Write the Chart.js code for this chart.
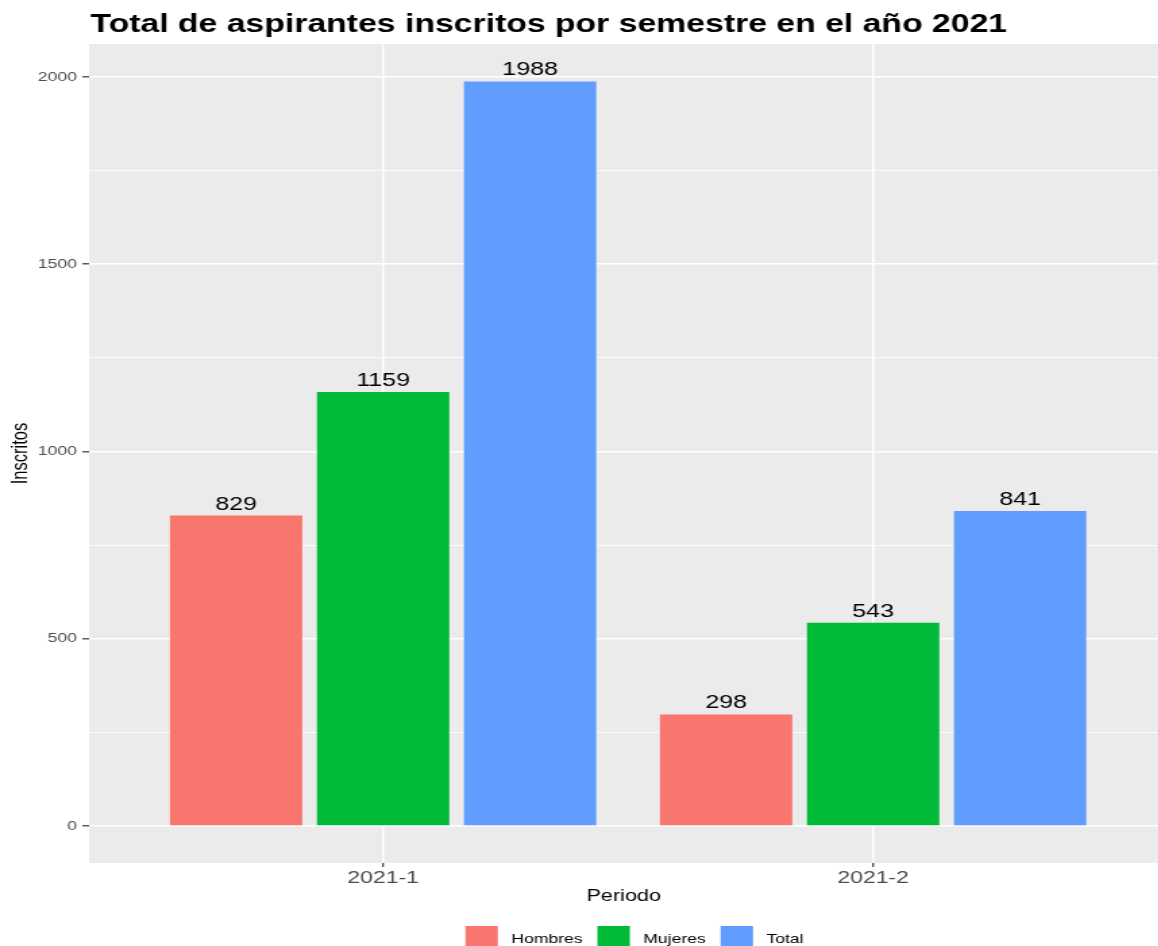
<!DOCTYPE html>
<html lang="es">
<head>
<meta charset="utf-8">
<title>Total de aspirantes inscritos por semestre en el año 2021</title>
<script src="https://cdn.jsdelivr.net/npm/chart.js@4.4.1/dist/chart.umd.min.js"></script>
<style>
  html, body { margin: 0; padding: 0; background: #fff; overflow: hidden; }
  /* el gráfico original viene estirado en horizontal */
  #lienzo { width: 858px; height: 946px; transform: scaleX(1.35); transform-origin: 0 0; }
</style>
</head>
<body>
<div id="lienzo"><canvas id="grafico" width="858" height="946"></canvas></div>
<script>
// Datos del gráfico
const periodos = ['2021-1', '2021-2'];
const hombres = [829, 298];
const mujeres = [1159, 543];
const total = [1988, 841];
const series = ['Hombres', 'Mujeres', 'Total'];
const colores = ['#F8766D', '#00BA38', '#619CFF'];
const etiquetasY = [0, 500, 1000, 1500, 2000];

const valores = [hombres, mujeres, total];
const fuente = "'Liberation Sans', Arial, sans-serif";
Chart.defaults.font.family = fuente;

// Fondo gris del panel, estilo ggplot
const fondoPanel = {
    id: 'fondoPanel',
    beforeDraw(chart) {
        const { ctx, chartArea: a } = chart;
        ctx.save();
        ctx.fillStyle = '#ffffff';
        ctx.fillRect(0, 0, chart.width, chart.height);
        ctx.fillStyle = '#EBEBEB';
        ctx.fillRect(a.left, a.top, a.right - a.left, a.bottom - a.top);
        ctx.restore();
    }
};

// Título, etiquetas de valor y leyenda
const textos = {
    id: 'textos',
    afterDatasetsDraw(chart) {
        const ctx = chart.ctx;
        ctx.save();
        ctx.fillStyle = '#000';
        ctx.font = `18.5px ${fuente}`;
        ctx.textAlign = 'center';
        ctx.textBaseline = 'alphabetic';
        chart.data.datasets.forEach((ds, i) => {
            chart.getDatasetMeta(i).data.forEach((barra, j) => {
                ctx.fillText(String(ds.data[j].y), barra.x, barra.y - 6);
            });
        });
        ctx.restore();
    },
    afterDraw(chart) {
        const ctx = chart.ctx;
        ctx.save();
        ctx.fillStyle = '#000';
        ctx.font = `bold 25px ${fuente}`;
        ctx.textAlign = 'left';
        ctx.textBaseline = 'alphabetic';
        ctx.fillText('Total de aspirantes inscritos por semestre en el año 2021', chart.chartArea.left + 1, 32);

        // leyenda abajo
        ctx.font = `13px ${fuente}`;
        ctx.textBaseline = 'middle';
        const caja = 24, sep = 10, entre = 11;
        const anchos = series.map(s => ctx.measureText(s).width);
        const ancho = anchos.reduce((s, w) => s + caja + sep + w, 0) + entre * (series.length - 1);
        let x = 470 - ancho / 2;
        series.forEach((s, i) => {
            ctx.fillStyle = colores[i];
            ctx.fillRect(x, 926, caja, caja);
            ctx.fillStyle = '#000';
            ctx.fillText(s, x + caja + sep, 939);
            x += caja + sep + anchos[i] + entre;
        });
        ctx.restore();
    }
};

const ctx = document.getElementById('grafico').getContext('2d');
const grafico = new Chart(ctx, {
    type: 'bar',
    data: {
        datasets: series.map((s, i) => ({
            label: s,
            data: valores[i].map((v, j) => ({ x: j + 1, y: v })),
            backgroundColor: colores[i],
            borderWidth: 0,
            categoryPercentage: 0.9,
            barPercentage: 0.9
        }))
    },
    options: {
        responsive: false,
        animation: false,
        devicePixelRatio: 1,
        layout: { padding: { top: 44, right: 0, bottom: 0, left: 0 } },
        plugins: {
            legend: { display: false },
            tooltip: { enabled: false }
        },
        scales: {
            x: {
                type: 'linear',
                offset: false,
                min: 0.4,
                max: 2.582,
                afterBuildTicks: scale => {
                    scale.ticks = periodos.map((p, i) => ({ value: i + 1 }));
                },
                afterFit: scale => { scale.height = 83; },
                ticks: {
                    callback: value => periodos[value - 1] || '',
                    font: { size: 17 },
                    color: '#4D4D4D',
                    padding: 1,
                    maxRotation: 0,
                    autoSkip: false
                },
                grid: {
                    offset: false,
                    color: '#ffffff',
                    lineWidth: 1.5,
                    tickColor: '#333333',
                    tickLength: 4,
                    tickWidth: 1.2
                },
                border: { display: false },
                title: {
                    display: true,
                    text: 'Periodo',
                    font: { size: 16 },
                    color: '#000',
                    padding: { top: 0, bottom: 40 }
                }
            },
            y: {
                min: -98.8,
                max: 2088,
                afterBuildTicks: scale => {
                    const marcas = [];
                    etiquetasY.forEach(v => {
                        marcas.push({ value: v });
                        if (v < 2000) marcas.push({ value: v + 250 });
                    });
                    scale.ticks = marcas;
                },
                afterFit: scale => { scale.width = 66; },
                ticks: {
                    callback: value => etiquetasY.includes(value) ? String(value) : '',
                    font: { size: 13 },
                    color: '#4D4D4D',
                    padding: 4,
                    autoSkip: false
                },
                grid: {
                    color: '#ffffff',
                    lineWidth: c => etiquetasY.includes(c.tick.value) ? 1.6 : 0.8,
                    tickColor: c => etiquetasY.includes(c.tick.value) ? '#333333' : 'rgba(0,0,0,0)',
                    tickLength: 5,
                    tickWidth: 1.2
                },
                border: { display: false },
                title: {
                    display: true,
                    text: 'Inscritos',
                    font: { size: 16.5 },
                    color: '#000',
                    padding: { top: 6, bottom: 0 }
                }
            }
        }
    },
    plugins: [fondoPanel, textos]
});
</script>
</body>
</html>
